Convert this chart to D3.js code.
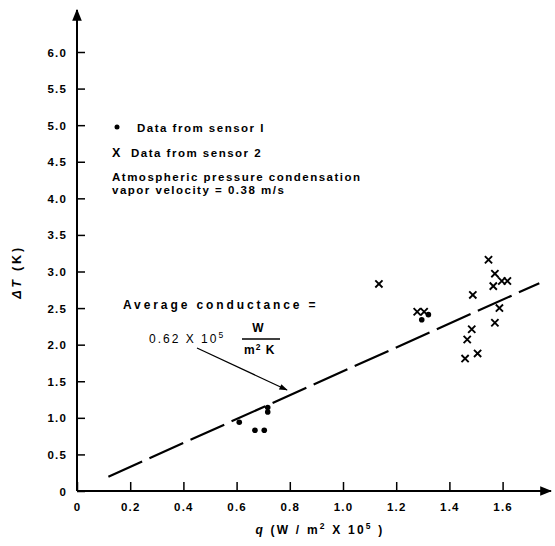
<!DOCTYPE html>
<html>
<head>
<meta charset="utf-8">
<script src="https://cdn.jsdelivr.net/npm/d3@7"></script>
<style>
  html, body { margin: 0; padding: 0; background: #fff; }
  svg { display: block; }
  text { font-family: "Liberation Sans", Arial, sans-serif; fill: #000; }
</style>
</head>
<body>
<svg id="chart" width="555" height="546"></svg>
<script>
// ---- data ----
const xTicks = [0, 0.2, 0.4, 0.6, 0.8, 1.0, 1.2, 1.4, 1.6];
const yTicks = [0, 0.5, 1.0, 1.5, 2.0, 2.5, 3.0, 3.5, 4.0, 4.5, 5.0, 5.5, 6.0];

// sensor 1 (dots)
const sensor1Q = [0.61, 0.669, 0.704, 0.717, 0.717, 1.296, 1.321];
const sensor1T = [0.94, 0.83, 0.83, 1.14, 1.08, 2.34, 2.41];

// sensor 2 (X)
const sensor2Q = [1.135, 1.279, 1.305, 1.488, 1.547, 1.571, 1.565, 1.597, 1.618, 1.588, 1.571, 1.484, 1.467, 1.506, 1.459];
const sensor2T = [2.83, 2.45, 2.45, 2.68, 3.16, 2.97, 2.80, 2.87, 2.87, 2.50, 2.30, 2.21, 2.07, 1.88, 1.81];

// average conductance line
const fitQ = [0.118, 1.738];
const fitT = [0.196, 2.84];

// ---- chart ----
const svg = d3.select("#chart");
const x = d3.scaleLinear().domain([0, 1.6]).range([77, 502.6]);
const y = d3.scaleLinear().domain([0, 6]).range([491, 52]);

const defs = svg.append("defs");
defs.append("marker").attr("id", "arrowAxis")
  .attr("viewBox", "0 0 10 10").attr("refX", 9).attr("refY", 5)
  .attr("markerWidth", 6).attr("markerHeight", 6).attr("markerUnits", "strokeWidth")
  .attr("orient", "auto")
  .append("path").attr("d", "M0,1 L10,5 L0,9 Z").attr("fill", "#000");
defs.append("marker").attr("id", "arrowNote")
  .attr("viewBox", "0 0 10 10").attr("refX", 9).attr("refY", 5)
  .attr("markerWidth", 10).attr("markerHeight", 7).attr("markerUnits", "strokeWidth")
  .attr("orient", "auto")
  .append("path").attr("d", "M0,1.5 L10,5 L0,8.5 Z").attr("fill", "#000");

const fmt = d => d === 0 ? "0" : d3.format(".1f")(d);
const xAxis = d3.axisBottom(x).tickValues(xTicks).tickSize(-9).tickPadding(12).tickFormat(fmt);
const yAxis = d3.axisLeft(y).tickValues(yTicks).tickSize(-8).tickPadding(10).tickFormat(fmt);

const gx = svg.append("g").attr("transform", `translate(0,${y(0)})`).call(xAxis);
const gy = svg.append("g").attr("transform", `translate(${x(0)},0)`).call(yAxis);
[gx, gy].forEach(g => {
  g.select(".domain").remove();
  g.selectAll(".tick line").attr("stroke", "#000").attr("stroke-width", 1.5);
  g.selectAll(".tick text").style("font-size", "11.5px").style("letter-spacing", "1.2px")
    .style("font-weight", "bold")
    .style("font-family", "'Liberation Sans', Arial, sans-serif").attr("fill", "#000");
});
gy.selectAll(".tick text").attr("dy", "0.35em");

svg.append("line").attr("x1", x(0)).attr("y1", y(0)).attr("x2", 551).attr("y2", y(0))
  .attr("stroke", "#000").attr("stroke-width", 2).attr("marker-end", "url(#arrowAxis)");
svg.append("line").attr("x1", x(0)).attr("y1", y(0)).attr("x2", x(0)).attr("y2", 10)
  .attr("stroke", "#000").attr("stroke-width", 2).attr("marker-end", "url(#arrowAxis)");

// fit line
svg.append("line")
  .attr("x1", x(fitQ[0])).attr("y1", y(fitT[0]))
  .attr("x2", x(fitQ[1])).attr("y2", y(fitT[1]))
  .attr("stroke", "#000").attr("stroke-width", 2.2)
  .attr("stroke-dasharray", "37,8");

// sensor 1 dots
svg.append("g").selectAll("circle").data(sensor1Q.map((q, i) => [q, sensor1T[i]]))
  .join("circle")
  .attr("cx", d => x(d[0])).attr("cy", d => y(d[1])).attr("r", 2.8).attr("fill", "#000");

// sensor 2 crosses
const s = 3.6;
svg.append("g").selectAll("path").data(sensor2Q.map((q, i) => [q, sensor2T[i]]))
  .join("path")
  .attr("d", d => {
    const cx = x(d[0]), cy = y(d[1]);
    return `M${cx - s},${cy - s}L${cx + s},${cy + s}M${cx + s},${cy - s}L${cx - s},${cy + s}`;
  })
  .attr("stroke", "#000").attr("stroke-width", 1.9).attr("fill", "none");

// legend
const lg = svg.append("g").style("font-size", "11.5px").style("font-weight", "bold").style("letter-spacing", "1.5px");
lg.append("circle").attr("cx", 117).attr("cy", 127).attr("r", 2.5).attr("fill", "#000");
lg.append("text").attr("x", 137).attr("y", 132).text("Data from sensor I");
lg.append("text").attr("x", 112).attr("y", 157).style("font-size", "12.5px").text("X");
lg.append("text").attr("x", 131).attr("y", 157).text("Data from sensor 2");
lg.append("text").attr("x", 112).attr("y", 181).text("Atmospheric pressure condensation");
lg.append("text").attr("x", 112).attr("y", 194).text("vapor velocity = 0.38 m/s");

// annotation
const an = svg.append("g").style("font-size", "12px").style("font-weight", "bold").style("letter-spacing", "2.9px");
an.append("text").attr("x", 123).attr("y", 309).text("Average conductance =");
const t2 = an.append("text").attr("x", 149).attr("y", 343).style("font-weight", "normal").style("letter-spacing", "2px");
t2.append("tspan").text("0.62 X 10");
t2.append("tspan").attr("dy", -5).style("font-size", "8.5px").text("5");
an.append("text").attr("x", 258).attr("y", 332).attr("text-anchor", "middle").style("letter-spacing", "0px").text("W");
an.append("line").attr("x1", 242).attr("x2", 280).attr("y1", 339).attr("y2", 339)
  .attr("stroke", "#000").attr("stroke-width", 1.3);
const t3 = an.append("text").attr("x", 244).attr("y", 354).style("letter-spacing", "1px");
t3.append("tspan").text("m");
t3.append("tspan").attr("dy", -4).style("font-size", "8.5px").text("2");
t3.append("tspan").attr("dy", 4).text(" K");
an.append("line").attr("x1", 197).attr("y1", 348).attr("x2", 287).attr("y2", 390)
  .attr("stroke", "#000").attr("stroke-width", 1.2).attr("marker-end", "url(#arrowNote)");

// axis titles
const xl = svg.append("text").attr("x", 320).attr("y", 534).attr("text-anchor", "middle")
  .style("font-size", "12px").style("font-weight", "bold").style("letter-spacing", "2.2px");
xl.append("tspan").style("font-style", "italic").text("q");
xl.append("tspan").text("  (W / m");
xl.append("tspan").attr("dy", -5).style("font-size", "8.5px").text("2");
xl.append("tspan").attr("dy", 5).text(" X 10");
xl.append("tspan").attr("dy", -5).style("font-size", "8.5px").text("5");
xl.append("tspan").attr("dy", 5).text(" )");

const yl = svg.append("text").attr("transform", "translate(21,272) rotate(-90)").attr("text-anchor", "middle")
  .style("font-size", "12.5px").style("font-weight", "bold").style("letter-spacing", "2.8px");
yl.append("tspan").style("font-style", "italic").text("ΔT");
yl.append("tspan").text(" (K)");
</script>
</body>
</html>
